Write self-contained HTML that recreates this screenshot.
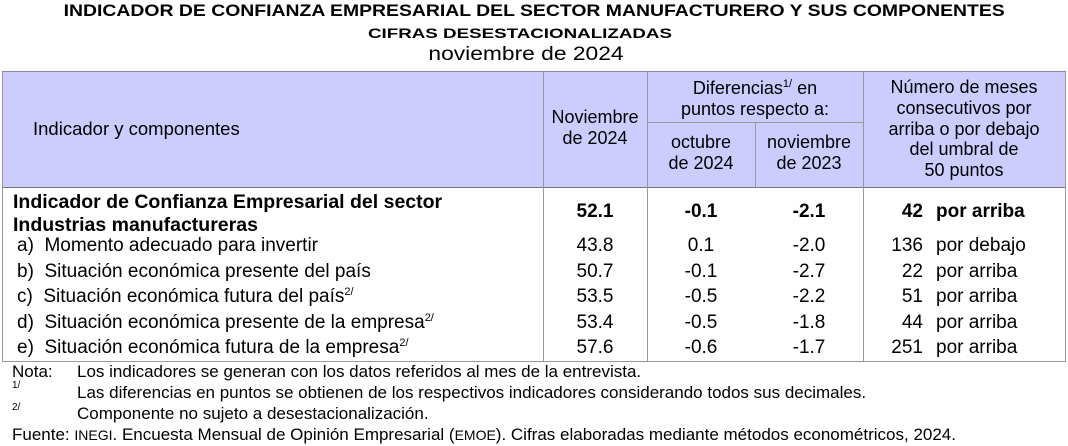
<!DOCTYPE html>
<html><head><meta charset="utf-8"><style>
body{margin:0;width:1068px;height:446px;background:#fff;position:relative;overflow:hidden;font-family:"Liberation Sans",Arial,sans-serif;color:#000}
.a{position:absolute;white-space:nowrap}
.c{text-align:center}
.ln{position:absolute;background:#999}
sup{font-size:11px;vertical-align:7px;line-height:0}
.b{font-weight:bold}
</style></head><body>
<div class="a c b" style="left:0;width:1068px;top:2px;font-size:16.5px;transform:scaleX(1.175);transform-origin:533px 0">INDICADOR DE CONFIANZA EMPRESARIAL DEL SECTOR MANUFACTURERO Y SUS COMPONENTES</div>
<div class="a c b" style="left:0;width:1040px;top:25px;font-size:14px;transform:scaleX(1.34);transform-origin:520px 0">CIFRAS DESESTACIONALIZADAS</div>
<div class="a c" style="left:0;width:1052px;top:44px;font-size:19px;transform:scaleX(1.2);transform-origin:526px 0">noviembre de 2024</div>

<div style="position:absolute;left:2px;top:72px;width:1064px;height:115px;background:#ccccff"></div>
<div class="ln" style="left:2px;top:71px;width:1064px;height:1px;background:#8888aa"></div>
<div class="ln" style="left:2px;top:187px;width:1064px;height:1px;background:#777"></div>
<div class="ln" style="left:2px;top:361px;width:1064px;height:1px"></div>
<div class="ln" style="left:2px;top:72px;width:1px;height:290px"></div>
<div class="ln" style="left:1065px;top:72px;width:1px;height:290px"></div>
<div class="ln" style="left:543px;top:72px;width:1px;height:290px"></div>
<div class="ln" style="left:647px;top:72px;width:1px;height:290px"></div>
<div class="ln" style="left:863px;top:72px;width:1px;height:290px"></div>
<div class="ln" style="left:755px;top:122px;width:1px;height:65px"></div>
<div class="ln" style="left:647px;top:122px;width:216px;height:1px"></div>

<div style="font-size:18px">
<div class="a" style="left:33px;top:118px;font-size:18.5px">Indicador y componentes</div>
<div class="a c" style="left:543px;width:104px;top:107px;line-height:21px">Noviembre<br>de 2024</div>
<div class="a c" style="left:647px;width:216px;top:78px;line-height:21px">Diferencias<sup>1/</sup> en<br>puntos respecto a:</div>
<div class="a c" style="left:647px;width:108px;top:132px;line-height:21px">octubre<br>de 2024</div>
<div class="a c" style="left:755px;width:108px;top:132px;line-height:21px">noviembre<br>de 2023</div>
<div class="a c" style="left:863px;width:202px;top:77px;line-height:20.8px">Número de meses<br>consecutivos por<br>arriba o por debajo<br>del umbral de<br>50 puntos</div>
</div>

<div class="b" style="font-size:19.5px">
<div class="a" style="left:13px;top:191px;line-height:22.5px">Indicador de Confianza Empresarial del sector<br>Industrias manufactureras</div>
</div>
<div class="b" style="font-size:19px">
<div class="a c" style="left:543px;width:104px;top:201px">52.1</div>
<div class="a c" style="left:647px;width:108px;top:201px">-0.1</div>
<div class="a c" style="left:755px;width:108px;top:201px">-2.1</div>
<div class="a" style="left:863px;width:60px;top:201px;text-align:right">42</div>
<div class="a" style="left:936px;top:201px">por arriba</div>
</div>

<div style="font-size:19px">
<div class="a" style="left:17px;top:235px">a)&nbsp; Momento adecuado para invertir</div>
<div class="a" style="left:17px;top:261px">b)&nbsp; Situación económica presente del país</div>
<div class="a" style="left:17px;top:286px">c)&nbsp; Situación económica futura del país<sup>2/</sup></div>
<div class="a" style="left:17px;top:312px">d)&nbsp; Situación económica presente de la empresa<sup>2/</sup></div>
<div class="a" style="left:17px;top:337px">e)&nbsp; Situación económica futura de la empresa<sup>2/</sup></div>

<div class="a c" style="left:543px;width:104px;top:235px">43.8</div>
<div class="a c" style="left:543px;width:104px;top:261px">50.7</div>
<div class="a c" style="left:543px;width:104px;top:286px">53.5</div>
<div class="a c" style="left:543px;width:104px;top:312px">53.4</div>
<div class="a c" style="left:543px;width:104px;top:337px">57.6</div>

<div class="a c" style="left:647px;width:108px;top:235px">0.1</div>
<div class="a c" style="left:647px;width:108px;top:261px">-0.1</div>
<div class="a c" style="left:647px;width:108px;top:286px">-0.5</div>
<div class="a c" style="left:647px;width:108px;top:312px">-0.5</div>
<div class="a c" style="left:647px;width:108px;top:337px">-0.6</div>

<div class="a c" style="left:755px;width:108px;top:235px">-2.0</div>
<div class="a c" style="left:755px;width:108px;top:261px">-2.7</div>
<div class="a c" style="left:755px;width:108px;top:286px">-2.2</div>
<div class="a c" style="left:755px;width:108px;top:312px">-1.8</div>
<div class="a c" style="left:755px;width:108px;top:337px">-1.7</div>

<div class="a" style="left:863px;width:60px;top:235px;text-align:right">136</div>
<div class="a" style="left:863px;width:60px;top:261px;text-align:right">22</div>
<div class="a" style="left:863px;width:60px;top:286px;text-align:right">51</div>
<div class="a" style="left:863px;width:60px;top:312px;text-align:right">44</div>
<div class="a" style="left:863px;width:60px;top:337px;text-align:right">251</div>
<div class="a" style="left:936px;top:235px">por debajo</div>
<div class="a" style="left:936px;top:261px">por arriba</div>
<div class="a" style="left:936px;top:286px">por arriba</div>
<div class="a" style="left:936px;top:312px">por arriba</div>
<div class="a" style="left:936px;top:337px">por arriba</div>
</div>

<div style="font-size:17px">
<div class="a" style="left:12px;top:362px">Nota:</div>
<div class="a" style="left:77px;top:362px">Los indicadores se generan con los datos referidos al mes de la entrevista.</div>
<div class="a" style="left:12px;top:380px;font-size:10px">1/</div>
<div class="a" style="left:77px;top:383px">Las diferencias en puntos se obtienen de los respectivos indicadores considerando todos sus decimales.</div>
<div class="a" style="left:12px;top:402px;font-size:10px">2/</div>
<div class="a" style="left:77px;top:404px">Componente no sujeto a desestacionalización.</div>
<div class="a" style="left:12px;top:425px">Fuente: <span style="font-size:14px">INEGI</span>. Encuesta Mensual de Opinión Empresarial (<span style="font-size:14px">EMOE</span>). Cifras elaboradas mediante métodos econométricos, 2024.</div>
</div>
</body></html>
